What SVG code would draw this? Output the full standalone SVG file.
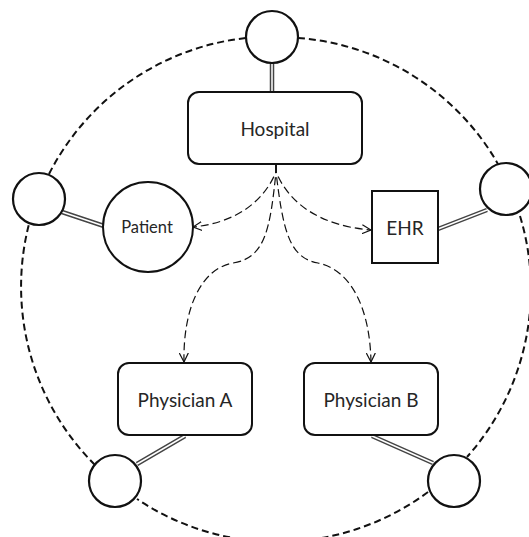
<svg xmlns="http://www.w3.org/2000/svg" width="529" height="537" viewBox="0 0 529 537">
<defs>
<style>
.ring{fill:none;stroke:#111;stroke-width:2;stroke-dasharray:7,4}
.port{fill:#fff;stroke:#111;stroke-width:2.2}
.box{fill:#fff;stroke:#111;stroke-width:2}
.lbl{font-family:Lato,"Liberation Sans",sans-serif;font-size:19px;fill:#262626;text-anchor:middle;dominant-baseline:central}
.dbl-o{stroke:#444;stroke-width:4.5;fill:none}
.dbl-i{stroke:#fff;stroke-width:1.5;fill:none}
.flow{fill:none;stroke:#111;stroke-width:1.2;stroke-dasharray:8,4}
</style>
<marker id="arr" viewBox="0 0 10 10" refX="9" refY="5" markerWidth="10" markerHeight="10" markerUnits="userSpaceOnUse" orient="auto">
<path d="M0,0.5 L9,5 L0,9.5" fill="none" stroke="#111" stroke-width="1.2"/>
</marker>
</defs>
<g id="ring">
<path class="ring" d="M298,38 A252,252 0 0 1 498,164"/>
<path class="ring" d="M520,216 A252,252 0 0 1 467,457"/>
<path class="ring" d="M428,492 A252,252 0 0 1 137,499"/>
<path class="ring" d="M95,465 A252,252 0 0 1 29,224"/>
<path class="ring" d="M49,174 A252,252 0 0 1 246,38"/>
</g>
<g id="connectors">
<g id="links">
<path class="dbl-o" d="M272,63 L272,92 M62,212 L104,226 M438,229 L487,210 M185,436 L137,464 M372,436 L433,463"/>
<path class="dbl-i" d="M272,63 L272,92 M62,212 L104,226 M438,229 L487,210 M185,436 L137,464 M372,436 L433,463"/>
</g>
<g id="flows">
<path class="flow" d="M276,165 L276,172 C262,205 232,223 193,227" marker-end="url(#arr)"/>
<path class="flow" d="M276,165 L276,172 C290,205 322,226 371,230" marker-end="url(#arr)"/>
<path class="flow" d="M276,165 L276,172 C270,230 265,258 233,263 C200,269 183,310 184,362" marker-end="url(#arr)"/>
<path class="flow" d="M276,165 L276,172 C283,230 289,258 318,263 C352,270 370,310 371,362" marker-end="url(#arr)"/>
</g>
</g>
<g id="port-top"><circle class="port" cx="272" cy="37" r="26"/></g>
<g id="port-left"><circle class="port" cx="39" cy="199" r="26"/></g>
<g id="port-right"><circle class="port" cx="506" cy="189" r="26"/></g>
<g id="port-bl"><circle class="port" cx="115" cy="481" r="26"/></g>
<g id="port-br"><circle class="port" cx="454" cy="481" r="26"/></g>
<g id="hospital"><rect class="box" x="188" y="92" width="174" height="72" rx="11"/><text class="lbl" x="275" y="128">Hospital</text></g>
<g id="patient"><circle class="box" cx="148" cy="227" r="45"/><text class="lbl" x="147" y="227" style="font-size:16.5px">Patient</text></g>
<g id="ehr"><rect class="box" x="372" y="191" width="66" height="72"/><text class="lbl" x="405" y="227">EHR</text></g>
<g id="physician-a"><rect class="box" x="118" y="363" width="134" height="72" rx="11"/><text class="lbl" x="185" y="399">Physician A</text></g>
<g id="physician-b"><rect class="box" x="304" y="363" width="134" height="72" rx="11"/><text class="lbl" x="371" y="399">Physician B</text></g>
</svg>
